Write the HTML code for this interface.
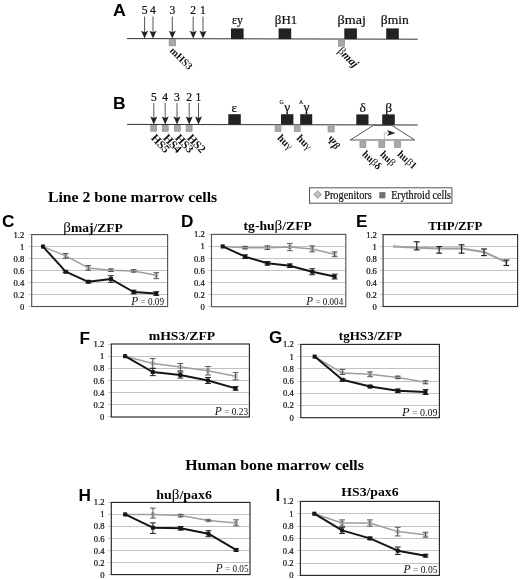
<!DOCTYPE html>
<html><head><meta charset="utf-8"><title>Figure</title>
<style>
html,body{margin:0;padding:0;background:#fff;}
body{width:520px;height:580px;overflow:hidden;font-family:"Liberation Serif",serif;}
svg{display:block;filter:blur(0.35px);}
</style></head><body>
<svg width="520" height="580" viewBox="0 0 520 580">
<rect x="-5" y="-5" width="530" height="590" fill="#fff"/>
<text x="113" y="15.5" text-anchor="start" style="font-family:'Liberation Sans',sans-serif;font-size:17.2px;font-weight:bold;" fill="#000" textLength="12.9" lengthAdjust="spacingAndGlyphs">A</text>
<line x1="127" y1="38.6" x2="417.7" y2="39.2" stroke="#333" stroke-width="1.0"/>
<line x1="144.6" y1="16.5" x2="144.6" y2="34.6" stroke="#555" stroke-width="1"/>
<polygon points="141.1,30.8 144.6,32.2 148.1,30.8 144.6,38.6" fill="#222"/>
<text x="144.6" y="14.3" text-anchor="middle" style="font-family:'Liberation Serif',serif;font-size:11.6px;" fill="#111" stroke="#111" stroke-width="0.22">5</text>
<line x1="153" y1="16.5" x2="153" y2="34.6" stroke="#555" stroke-width="1"/>
<polygon points="149.5,30.8 153,32.2 156.5,30.8 153,38.6" fill="#222"/>
<text x="153" y="14.3" text-anchor="middle" style="font-family:'Liberation Serif',serif;font-size:11.6px;" fill="#111" stroke="#111" stroke-width="0.22">4</text>
<line x1="172.3" y1="16.5" x2="172.3" y2="34.6" stroke="#555" stroke-width="1"/>
<polygon points="168.8,30.8 172.3,32.2 175.8,30.8 172.3,38.6" fill="#222"/>
<text x="172.3" y="14.3" text-anchor="middle" style="font-family:'Liberation Serif',serif;font-size:11.6px;" fill="#111" stroke="#111" stroke-width="0.22">3</text>
<line x1="193.2" y1="16.5" x2="193.2" y2="34.6" stroke="#555" stroke-width="1"/>
<polygon points="189.7,30.8 193.2,32.2 196.7,30.8 193.2,38.6" fill="#222"/>
<text x="193.2" y="14.3" text-anchor="middle" style="font-family:'Liberation Serif',serif;font-size:11.6px;" fill="#111" stroke="#111" stroke-width="0.22">2</text>
<line x1="203" y1="16.5" x2="203" y2="34.6" stroke="#555" stroke-width="1"/>
<polygon points="199.5,30.8 203,32.2 206.5,30.8 203,38.6" fill="#222"/>
<text x="203" y="14.3" text-anchor="middle" style="font-family:'Liberation Serif',serif;font-size:11.6px;" fill="#111" stroke="#111" stroke-width="0.22">1</text>
<rect x="231" y="28.4" width="12.6" height="10.7" fill="#222"/>
<text x="237.6" y="24.4" text-anchor="middle" style="font-family:'Liberation Serif',serif;font-size:13.3px;" fill="#111" textLength="11" lengthAdjust="spacingAndGlyphs" stroke="#111" stroke-width="0.22">εy</text>
<rect x="278.6" y="28.4" width="12.6" height="10.7" fill="#222"/>
<text x="286" y="24.4" text-anchor="middle" style="font-family:'Liberation Serif',serif;font-size:13.3px;" fill="#111" textLength="22.4" lengthAdjust="spacingAndGlyphs" stroke="#111" stroke-width="0.22">βH1</text>
<rect x="344.3" y="28.4" width="12.6" height="10.7" fill="#222"/>
<text x="351.7" y="24.4" text-anchor="middle" style="font-family:'Liberation Serif',serif;font-size:13.3px;" fill="#111" textLength="28.3" lengthAdjust="spacingAndGlyphs" stroke="#111" stroke-width="0.22">βmaj</text>
<rect x="386.2" y="28.4" width="12.6" height="10.7" fill="#222"/>
<text x="394.8" y="24.4" text-anchor="middle" style="font-family:'Liberation Serif',serif;font-size:13.3px;" fill="#111" textLength="28" lengthAdjust="spacingAndGlyphs" stroke="#111" stroke-width="0.22">βmin</text>
<rect x="169.15" y="39.55" width="6.3" height="6.3" fill="#a8a8a8" stroke="#8c8c8c" stroke-width="0.7"/>
<rect x="338.45" y="40.05" width="6.1" height="6.1" fill="#a8a8a8" stroke="#8c8c8c" stroke-width="0.7"/>
<text x="169.3" y="51.2" text-anchor="start" style="font-family:'Liberation Serif',serif;font-size:10.2px;font-weight:bold;" fill="#111" transform="rotate(45 169.3 51.2)">mHS3</text>
<text x="337.2" y="51.5" text-anchor="start" style="font-family:'Liberation Serif',serif;font-size:11.5px;font-weight:bold;font-style:italic;" fill="#111" transform="rotate(45 337.2 51.5)"><tspan style="font-style:normal;font-weight:normal">β</tspan>maj</text>
<text x="113" y="108.7" text-anchor="start" style="font-family:'Liberation Sans',sans-serif;font-size:17.2px;font-weight:bold;" fill="#000" textLength="12.6" lengthAdjust="spacingAndGlyphs">B</text>
<line x1="127" y1="124.4" x2="417.7" y2="125" stroke="#333" stroke-width="1.0"/>
<line x1="153.8" y1="103" x2="153.8" y2="120.4" stroke="#555" stroke-width="1"/>
<polygon points="150.3,116.6 153.8,118 157.3,116.6 153.8,124.4" fill="#222"/>
<text x="153.8" y="101.2" text-anchor="middle" style="font-family:'Liberation Serif',serif;font-size:11.6px;" fill="#111" stroke="#111" stroke-width="0.22">5</text>
<line x1="165.2" y1="103" x2="165.2" y2="120.4" stroke="#555" stroke-width="1"/>
<polygon points="161.7,116.6 165.2,118 168.7,116.6 165.2,124.4" fill="#222"/>
<text x="165.2" y="101.2" text-anchor="middle" style="font-family:'Liberation Serif',serif;font-size:11.6px;" fill="#111" stroke="#111" stroke-width="0.22">4</text>
<line x1="177" y1="103" x2="177" y2="120.4" stroke="#555" stroke-width="1"/>
<polygon points="173.5,116.6 177,118 180.5,116.6 177,124.4" fill="#222"/>
<text x="177" y="101.2" text-anchor="middle" style="font-family:'Liberation Serif',serif;font-size:11.6px;" fill="#111" stroke="#111" stroke-width="0.22">3</text>
<line x1="189.2" y1="103" x2="189.2" y2="120.4" stroke="#555" stroke-width="1"/>
<polygon points="185.7,116.6 189.2,118 192.7,116.6 189.2,124.4" fill="#222"/>
<text x="189.2" y="101.2" text-anchor="middle" style="font-family:'Liberation Serif',serif;font-size:11.6px;" fill="#111" stroke="#111" stroke-width="0.22">2</text>
<line x1="198.5" y1="103" x2="198.5" y2="120.4" stroke="#555" stroke-width="1"/>
<polygon points="195,116.6 198.5,118 202,116.6 198.5,124.4" fill="#222"/>
<text x="198.5" y="101.2" text-anchor="middle" style="font-family:'Liberation Serif',serif;font-size:11.6px;" fill="#111" stroke="#111" stroke-width="0.22">1</text>
<rect x="150.75" y="125.35" width="5.9" height="5.9" fill="#a8a8a8" stroke="#8c8c8c" stroke-width="0.7"/>
<rect x="162.25" y="125.35" width="5.9" height="5.9" fill="#a8a8a8" stroke="#8c8c8c" stroke-width="0.7"/>
<rect x="174.35" y="125.35" width="5.9" height="5.9" fill="#a8a8a8" stroke="#8c8c8c" stroke-width="0.7"/>
<rect x="186.15" y="125.35" width="5.9" height="5.9" fill="#a8a8a8" stroke="#8c8c8c" stroke-width="0.7"/>
<text x="150.5" y="138.4" text-anchor="start" style="font-family:'Liberation Serif',serif;font-size:11.5px;font-weight:bold;" fill="#111" transform="rotate(47 150.5 138.4)">HS5</text>
<text x="162.5" y="138.4" text-anchor="start" style="font-family:'Liberation Serif',serif;font-size:11.5px;font-weight:bold;" fill="#111" transform="rotate(47 162.5 138.4)">HS4</text>
<text x="174.5" y="138.4" text-anchor="start" style="font-family:'Liberation Serif',serif;font-size:11.5px;font-weight:bold;" fill="#111" transform="rotate(47 174.5 138.4)">HS3</text>
<text x="186.5" y="138.4" text-anchor="start" style="font-family:'Liberation Serif',serif;font-size:11.5px;font-weight:bold;" fill="#111" transform="rotate(47 186.5 138.4)">HS2</text>
<rect x="228.3" y="114.2" width="12.5" height="10.4" fill="#222"/>
<text x="234.3" y="111.6" text-anchor="middle" style="font-family:'Liberation Serif',serif;font-size:13px;" fill="#111" stroke="#111" stroke-width="0.22">ε</text>
<rect x="281" y="114.2" width="12.4" height="10.5" fill="#222"/>
<rect x="300.2" y="114.2" width="12" height="10.5" fill="#222"/>
<rect x="356.3" y="114.4" width="12.2" height="10.5" fill="#222"/>
<text x="362.6" y="111.8" text-anchor="middle" style="font-family:'Liberation Serif',serif;font-size:13.5px;" fill="#111" stroke="#111" stroke-width="0.22">δ</text>
<rect x="382.2" y="114.4" width="12.6" height="10.5" fill="#222"/>
<text x="388.6" y="111.8" text-anchor="middle" style="font-family:'Liberation Serif',serif;font-size:13.5px;" fill="#111" stroke="#111" stroke-width="0.22">β</text>
<text x="279.4" y="104.2" text-anchor="start" style="font-family:'Liberation Serif',serif;font-size:5.8px;" fill="#333" stroke="#333" stroke-width="0.22">G</text>
<text x="284.2" y="110.6" text-anchor="start" style="font-family:'Liberation Serif',serif;font-size:13.5px;" fill="#111" stroke="#111" stroke-width="0.22">γ</text>
<text x="299" y="104.2" text-anchor="start" style="font-family:'Liberation Serif',serif;font-size:5.8px;" fill="#333" stroke="#333" stroke-width="0.22">A</text>
<text x="303.6" y="110.6" text-anchor="start" style="font-family:'Liberation Serif',serif;font-size:13.5px;" fill="#111" stroke="#111" stroke-width="0.22">γ</text>
<rect x="275.15" y="125.75" width="5.8" height="5.8" fill="#a8a8a8" stroke="#8c8c8c" stroke-width="0.7"/>
<rect x="294.25" y="125.85" width="5.9" height="5.8" fill="#a8a8a8" stroke="#8c8c8c" stroke-width="0.7"/>
<rect x="328.05" y="126.15" width="6.1" height="5.8" fill="#a8a8a8" stroke="#8c8c8c" stroke-width="0.7"/>
<text x="276.8" y="138.6" text-anchor="start" style="font-family:'Liberation Serif',serif;font-size:10.6px;font-weight:bold;" fill="#111" transform="rotate(45 276.8 138.6)">hu<tspan style="font-weight:normal">γ</tspan></text>
<text x="296" y="138.8" text-anchor="start" style="font-family:'Liberation Serif',serif;font-size:10.6px;font-weight:bold;" fill="#111" transform="rotate(45 296 138.8)">hu<tspan style="font-weight:normal">γ</tspan></text>
<text x="326" y="140.4" text-anchor="start" style="font-family:'Liberation Serif',serif;font-size:10.5px;font-weight:bold;" fill="#111" transform="rotate(45 326 140.4)">Ψ<tspan style="font-style:italic">β</tspan></text>
<polygon points="373.3,125.4 391.9,125.4 414.8,140 350.3,140" fill="#fff" stroke="#383838" stroke-width="0.85"/>
<polyline points="384.3,139.6 384.3,132.8 389,132.8" fill="none" stroke="#999" stroke-width="0.6"/>
<polygon points="387,129.9 395.4,132.9 387,135.9 389.2,132.9" fill="#222"/>
<rect x="359.95" y="141.45" width="5.9" height="5.9" fill="#a8a8a8" stroke="#8c8c8c" stroke-width="0.7"/>
<rect x="378.85" y="141.45" width="5.9" height="5.9" fill="#a8a8a8" stroke="#8c8c8c" stroke-width="0.7"/>
<rect x="394.65" y="141.45" width="5.9" height="5.9" fill="#a8a8a8" stroke="#8c8c8c" stroke-width="0.7"/>
<text x="361.6" y="154.8" text-anchor="start" style="font-family:'Liberation Serif',serif;font-size:10.4px;font-weight:bold;" fill="#111" transform="rotate(44 361.6 154.8)">hu<tspan style="font-weight:normal">β</tspan>δ</text>
<text x="379.4" y="155" text-anchor="start" style="font-family:'Liberation Serif',serif;font-size:10.4px;font-weight:bold;" fill="#111" transform="rotate(44 379.4 155)">hu<tspan style="font-weight:normal">β</tspan></text>
<text x="396.8" y="155" text-anchor="start" style="font-family:'Liberation Serif',serif;font-size:10.4px;font-weight:bold;" fill="#111" transform="rotate(42 396.8 155)">hu<tspan style="font-weight:normal">β</tspan>1</text>
<text x="132.6" y="202.1" text-anchor="middle" style="font-family:'Liberation Serif',serif;font-size:14.2px;font-weight:bold;" fill="#000" textLength="169.2" lengthAdjust="spacingAndGlyphs">Line 2 bone marrow cells</text>
<text x="274.6" y="470.3" text-anchor="middle" style="font-family:'Liberation Serif',serif;font-size:14.2px;font-weight:bold;" fill="#000" textLength="178.6" lengthAdjust="spacingAndGlyphs">Human bone marrow cells</text>
<rect x="309.5" y="187.8" width="142.4" height="15.4" fill="#fff" stroke="#555" stroke-width="1.0"/>
<polygon points="317.6,190.6 321.5,194.6 317.6,198.6 313.7,194.6" fill="#bdbdbd" stroke="#8c8c8c" stroke-width="0.7"/>
<text x="324.2" y="199.2" text-anchor="start" style="font-family:'Liberation Serif',serif;font-size:12px;" fill="#111" textLength="47.6" lengthAdjust="spacingAndGlyphs" stroke="#111" stroke-width="0.22">Progenitors</text>
<rect x="379.3" y="192.1" width="6.1" height="6.2" fill="#707070"/>
<text x="391.2" y="199.2" text-anchor="start" style="font-family:'Liberation Serif',serif;font-size:12px;" fill="#111" textLength="59.8" lengthAdjust="spacingAndGlyphs" stroke="#111" stroke-width="0.22">Erythroid cells</text>
<rect x="31.7" y="234.6" width="135.9" height="71.9" fill="#fff"/>
<line x1="28.5" y1="234.5" x2="31.7" y2="234.5" stroke="#c4c4c4" stroke-width="0.9"/>
<line x1="32.3" y1="246.5" x2="167" y2="246.5" stroke="#c2c2c2" stroke-width="1.1"/>
<line x1="28.5" y1="246.5" x2="31.7" y2="246.5" stroke="#c4c4c4" stroke-width="0.9"/>
<line x1="32.3" y1="258.5" x2="167" y2="258.5" stroke="#c2c2c2" stroke-width="1.1"/>
<line x1="28.5" y1="258.5" x2="31.7" y2="258.5" stroke="#c4c4c4" stroke-width="0.9"/>
<line x1="32.3" y1="270.5" x2="167" y2="270.5" stroke="#c2c2c2" stroke-width="1.1"/>
<line x1="28.5" y1="270.5" x2="31.7" y2="270.5" stroke="#c4c4c4" stroke-width="0.9"/>
<line x1="32.3" y1="282.5" x2="167" y2="282.5" stroke="#c2c2c2" stroke-width="1.1"/>
<line x1="28.5" y1="282.5" x2="31.7" y2="282.5" stroke="#c4c4c4" stroke-width="0.9"/>
<line x1="32.3" y1="294.5" x2="167" y2="294.5" stroke="#c2c2c2" stroke-width="1.1"/>
<line x1="28.5" y1="294.5" x2="31.7" y2="294.5" stroke="#c4c4c4" stroke-width="0.9"/>
<line x1="28.5" y1="306.5" x2="31.7" y2="306.5" stroke="#c4c4c4" stroke-width="0.9"/>
<rect x="31.7" y="234.6" width="135.9" height="71.9" fill="none" stroke="#555" stroke-width="1.15"/>
<text x="24.2" y="237.6" text-anchor="end" style="font-family:'Liberation Serif',serif;font-size:8.6px;" fill="#111" stroke="#111" stroke-width="0.22">1.2</text>
<text x="24.2" y="249.58" text-anchor="end" style="font-family:'Liberation Serif',serif;font-size:8.6px;" fill="#111" stroke="#111" stroke-width="0.22">1</text>
<text x="24.2" y="261.57" text-anchor="end" style="font-family:'Liberation Serif',serif;font-size:8.6px;" fill="#111" stroke="#111" stroke-width="0.22">0.8</text>
<text x="24.2" y="273.55" text-anchor="end" style="font-family:'Liberation Serif',serif;font-size:8.6px;" fill="#111" stroke="#111" stroke-width="0.22">0.6</text>
<text x="24.2" y="285.53" text-anchor="end" style="font-family:'Liberation Serif',serif;font-size:8.6px;" fill="#111" stroke="#111" stroke-width="0.22">0.4</text>
<text x="24.2" y="297.52" text-anchor="end" style="font-family:'Liberation Serif',serif;font-size:8.6px;" fill="#111" stroke="#111" stroke-width="0.22">0.2</text>
<text x="24.2" y="309.5" text-anchor="end" style="font-family:'Liberation Serif',serif;font-size:8.6px;" fill="#111" stroke="#111" stroke-width="0.22">0</text>
<polyline points="43.0,246.6 65.7,255.9 88.3,267.9 111.0,270.2 133.6,270.9 156.3,275.3" fill="none" stroke="#9e9e9e" stroke-width="1.5" stroke-linejoin="round"/>
<rect x="41.52" y="245.08" width="3" height="3" fill="#cfcfcf" stroke="#9e9e9e" stroke-width="0.7"/>
<rect x="64.17" y="254.37" width="3" height="3" fill="#cfcfcf" stroke="#9e9e9e" stroke-width="0.7"/>
<line x1="65.67" y1="253.47" x2="65.67" y2="258.27" stroke="#444" stroke-width="0.9"/>
<line x1="62.77" y1="253.47" x2="68.58" y2="253.47" stroke="#444" stroke-width="0.9"/>
<line x1="62.77" y1="258.27" x2="68.58" y2="258.27" stroke="#444" stroke-width="0.9"/>
<rect x="86.83" y="266.35" width="3" height="3" fill="#cfcfcf" stroke="#9e9e9e" stroke-width="0.7"/>
<line x1="88.33" y1="265.46" x2="88.33" y2="270.25" stroke="#444" stroke-width="0.9"/>
<line x1="85.42" y1="265.46" x2="91.23" y2="265.46" stroke="#444" stroke-width="0.9"/>
<line x1="85.42" y1="270.25" x2="91.23" y2="270.25" stroke="#444" stroke-width="0.9"/>
<rect x="109.48" y="268.69" width="3" height="3" fill="#cfcfcf" stroke="#9e9e9e" stroke-width="0.7"/>
<line x1="110.98" y1="268.99" x2="110.98" y2="271.39" stroke="#444" stroke-width="0.9"/>
<line x1="108.08" y1="268.99" x2="113.88" y2="268.99" stroke="#444" stroke-width="0.9"/>
<line x1="108.08" y1="271.39" x2="113.88" y2="271.39" stroke="#444" stroke-width="0.9"/>
<rect x="132.12" y="269.41" width="3" height="3" fill="#cfcfcf" stroke="#9e9e9e" stroke-width="0.7"/>
<line x1="133.62" y1="269.71" x2="133.62" y2="272.11" stroke="#444" stroke-width="0.9"/>
<line x1="130.72" y1="269.71" x2="136.53" y2="269.71" stroke="#444" stroke-width="0.9"/>
<line x1="130.72" y1="272.11" x2="136.53" y2="272.11" stroke="#444" stroke-width="0.9"/>
<rect x="154.78" y="273.84" width="3" height="3" fill="#cfcfcf" stroke="#9e9e9e" stroke-width="0.7"/>
<line x1="156.28" y1="272.65" x2="156.28" y2="278.64" stroke="#444" stroke-width="0.9"/>
<line x1="153.38" y1="272.65" x2="159.18" y2="272.65" stroke="#444" stroke-width="0.9"/>
<line x1="153.38" y1="278.64" x2="159.18" y2="278.64" stroke="#444" stroke-width="0.9"/>
<polyline points="43.0,246.6 65.7,271.7 88.3,281.8 111.0,279.1 133.6,292.0 156.3,293.6" fill="none" stroke="#151515" stroke-width="2.0" stroke-linejoin="round"/>
<rect x="41.02" y="244.58" width="4" height="4" fill="#151515"/>
<rect x="63.67" y="269.75" width="4" height="4" fill="#151515"/>
<line x1="65.67" y1="270.85" x2="65.67" y2="272.65" stroke="#1a1a1a" stroke-width="1.0"/>
<line x1="62.77" y1="270.85" x2="68.58" y2="270.85" stroke="#1a1a1a" stroke-width="1.0"/>
<line x1="62.77" y1="272.65" x2="68.58" y2="272.65" stroke="#1a1a1a" stroke-width="1.0"/>
<rect x="86.33" y="279.75" width="4" height="4" fill="#151515"/>
<line x1="88.33" y1="280.56" x2="88.33" y2="282.95" stroke="#1a1a1a" stroke-width="1.0"/>
<line x1="85.42" y1="280.56" x2="91.23" y2="280.56" stroke="#1a1a1a" stroke-width="1.0"/>
<line x1="85.42" y1="282.95" x2="91.23" y2="282.95" stroke="#1a1a1a" stroke-width="1.0"/>
<rect x="108.98" y="277.06" width="4" height="4" fill="#151515"/>
<line x1="110.98" y1="275.76" x2="110.98" y2="282.35" stroke="#1a1a1a" stroke-width="1.0"/>
<line x1="108.08" y1="275.76" x2="113.88" y2="275.76" stroke="#1a1a1a" stroke-width="1.0"/>
<line x1="108.08" y1="282.35" x2="113.88" y2="282.35" stroke="#1a1a1a" stroke-width="1.0"/>
<rect x="131.62" y="290" width="4" height="4" fill="#151515"/>
<line x1="133.62" y1="290.2" x2="133.62" y2="293.8" stroke="#1a1a1a" stroke-width="1.0"/>
<line x1="130.72" y1="290.2" x2="136.53" y2="290.2" stroke="#1a1a1a" stroke-width="1.0"/>
<line x1="130.72" y1="293.8" x2="136.53" y2="293.8" stroke="#1a1a1a" stroke-width="1.0"/>
<rect x="154.28" y="291.56" width="4" height="4" fill="#151515"/>
<line x1="156.28" y1="291.76" x2="156.28" y2="295.36" stroke="#1a1a1a" stroke-width="1.0"/>
<line x1="153.38" y1="291.76" x2="159.18" y2="291.76" stroke="#1a1a1a" stroke-width="1.0"/>
<line x1="153.38" y1="295.36" x2="159.18" y2="295.36" stroke="#1a1a1a" stroke-width="1.0"/>
<text x="2" y="226.8" text-anchor="start" style="font-family:'Liberation Sans',sans-serif;font-size:17.2px;font-weight:bold;" fill="#000">C</text>
<text x="63.3" y="231.6" text-anchor="start" style="font-family:'Liberation Serif',serif;font-size:12.3px;font-weight:bold;" fill="#000" textLength="59.5" lengthAdjust="spacingAndGlyphs"><tspan style="font-weight:normal;font-size:13.8px">β</tspan>maj/ZFP</text>
<text x="131.3" y="305" fill="#111" textLength="32.7" lengthAdjust="spacingAndGlyphs" style="font-family:'Liberation Serif',serif;font-size:9.6px;"><tspan style="font-style:italic;font-size:11.8px">P</tspan> <tspan fill="#666">=</tspan> 0.09</text>
<rect x="211.5" y="234.4" width="134.3" height="72.3" fill="#fff"/>
<line x1="208.3" y1="234.5" x2="211.5" y2="234.5" stroke="#c4c4c4" stroke-width="0.9"/>
<line x1="212.1" y1="246.5" x2="345.2" y2="246.5" stroke="#c2c2c2" stroke-width="1.1"/>
<line x1="208.3" y1="246.5" x2="211.5" y2="246.5" stroke="#c4c4c4" stroke-width="0.9"/>
<line x1="212.1" y1="258.5" x2="345.2" y2="258.5" stroke="#c2c2c2" stroke-width="1.1"/>
<line x1="208.3" y1="258.5" x2="211.5" y2="258.5" stroke="#c4c4c4" stroke-width="0.9"/>
<line x1="212.1" y1="270.5" x2="345.2" y2="270.5" stroke="#c2c2c2" stroke-width="1.1"/>
<line x1="208.3" y1="270.5" x2="211.5" y2="270.5" stroke="#c4c4c4" stroke-width="0.9"/>
<line x1="212.1" y1="282.5" x2="345.2" y2="282.5" stroke="#c2c2c2" stroke-width="1.1"/>
<line x1="208.3" y1="282.5" x2="211.5" y2="282.5" stroke="#c4c4c4" stroke-width="0.9"/>
<line x1="212.1" y1="294.5" x2="345.2" y2="294.5" stroke="#c2c2c2" stroke-width="1.1"/>
<line x1="208.3" y1="294.5" x2="211.5" y2="294.5" stroke="#c4c4c4" stroke-width="0.9"/>
<line x1="208.3" y1="306.5" x2="211.5" y2="306.5" stroke="#c4c4c4" stroke-width="0.9"/>
<rect x="211.5" y="234.4" width="134.3" height="72.3" fill="none" stroke="#555" stroke-width="1.15"/>
<text x="204.8" y="237.4" text-anchor="end" style="font-family:'Liberation Serif',serif;font-size:8.6px;" fill="#111" stroke="#111" stroke-width="0.22">1.2</text>
<text x="204.8" y="249.45" text-anchor="end" style="font-family:'Liberation Serif',serif;font-size:8.6px;" fill="#111" stroke="#111" stroke-width="0.22">1</text>
<text x="204.8" y="261.5" text-anchor="end" style="font-family:'Liberation Serif',serif;font-size:8.6px;" fill="#111" stroke="#111" stroke-width="0.22">0.8</text>
<text x="204.8" y="273.55" text-anchor="end" style="font-family:'Liberation Serif',serif;font-size:8.6px;" fill="#111" stroke="#111" stroke-width="0.22">0.6</text>
<text x="204.8" y="285.6" text-anchor="end" style="font-family:'Liberation Serif',serif;font-size:8.6px;" fill="#111" stroke="#111" stroke-width="0.22">0.4</text>
<text x="204.8" y="297.65" text-anchor="end" style="font-family:'Liberation Serif',serif;font-size:8.6px;" fill="#111" stroke="#111" stroke-width="0.22">0.2</text>
<text x="204.8" y="309.7" text-anchor="end" style="font-family:'Liberation Serif',serif;font-size:8.6px;" fill="#111" stroke="#111" stroke-width="0.22">0</text>
<polyline points="222.7,246.4 245.1,247.7 267.5,247.7 289.8,247.1 312.2,248.9 334.6,254.3" fill="none" stroke="#9e9e9e" stroke-width="1.5" stroke-linejoin="round"/>
<rect x="221.19" y="244.95" width="3" height="3" fill="#cfcfcf" stroke="#9e9e9e" stroke-width="0.7"/>
<rect x="243.57" y="246.16" width="3" height="3" fill="#cfcfcf" stroke="#9e9e9e" stroke-width="0.7"/>
<line x1="245.07" y1="246.45" x2="245.07" y2="248.86" stroke="#444" stroke-width="0.9"/>
<line x1="242.17" y1="246.45" x2="247.97" y2="246.45" stroke="#444" stroke-width="0.9"/>
<line x1="242.17" y1="248.86" x2="247.97" y2="248.86" stroke="#444" stroke-width="0.9"/>
<rect x="265.96" y="246.16" width="3" height="3" fill="#cfcfcf" stroke="#9e9e9e" stroke-width="0.7"/>
<line x1="267.46" y1="245.85" x2="267.46" y2="249.46" stroke="#444" stroke-width="0.9"/>
<line x1="264.56" y1="245.85" x2="270.36" y2="245.85" stroke="#444" stroke-width="0.9"/>
<line x1="264.56" y1="249.46" x2="270.36" y2="249.46" stroke="#444" stroke-width="0.9"/>
<rect x="288.34" y="245.55" width="3" height="3" fill="#cfcfcf" stroke="#9e9e9e" stroke-width="0.7"/>
<line x1="289.84" y1="243.44" x2="289.84" y2="250.67" stroke="#444" stroke-width="0.9"/>
<line x1="286.94" y1="243.44" x2="292.74" y2="243.44" stroke="#444" stroke-width="0.9"/>
<line x1="286.94" y1="250.67" x2="292.74" y2="250.67" stroke="#444" stroke-width="0.9"/>
<rect x="310.73" y="247.36" width="3" height="3" fill="#cfcfcf" stroke="#9e9e9e" stroke-width="0.7"/>
<line x1="312.23" y1="245.85" x2="312.23" y2="251.87" stroke="#444" stroke-width="0.9"/>
<line x1="309.33" y1="245.85" x2="315.12" y2="245.85" stroke="#444" stroke-width="0.9"/>
<line x1="309.33" y1="251.87" x2="315.12" y2="251.87" stroke="#444" stroke-width="0.9"/>
<rect x="333.11" y="252.78" width="3" height="3" fill="#cfcfcf" stroke="#9e9e9e" stroke-width="0.7"/>
<line x1="334.61" y1="251.87" x2="334.61" y2="256.69" stroke="#444" stroke-width="0.9"/>
<line x1="331.71" y1="251.87" x2="337.51" y2="251.87" stroke="#444" stroke-width="0.9"/>
<line x1="331.71" y1="256.69" x2="337.51" y2="256.69" stroke="#444" stroke-width="0.9"/>
<polyline points="222.7,246.4 245.1,256.7 267.5,263.3 289.8,265.7 312.2,271.8 334.6,276.6" fill="none" stroke="#151515" stroke-width="2.0" stroke-linejoin="round"/>
<rect x="220.69" y="244.45" width="4" height="4" fill="#151515"/>
<rect x="243.07" y="254.69" width="4" height="4" fill="#151515"/>
<line x1="245.07" y1="254.88" x2="245.07" y2="258.5" stroke="#1a1a1a" stroke-width="1.0"/>
<line x1="242.17" y1="254.88" x2="247.97" y2="254.88" stroke="#1a1a1a" stroke-width="1.0"/>
<line x1="242.17" y1="258.5" x2="247.97" y2="258.5" stroke="#1a1a1a" stroke-width="1.0"/>
<rect x="265.46" y="261.32" width="4" height="4" fill="#151515"/>
<line x1="267.46" y1="261.51" x2="267.46" y2="265.13" stroke="#1a1a1a" stroke-width="1.0"/>
<line x1="264.56" y1="261.51" x2="270.36" y2="261.51" stroke="#1a1a1a" stroke-width="1.0"/>
<line x1="264.56" y1="265.13" x2="270.36" y2="265.13" stroke="#1a1a1a" stroke-width="1.0"/>
<rect x="287.84" y="263.73" width="4" height="4" fill="#151515"/>
<line x1="289.84" y1="263.92" x2="289.84" y2="267.54" stroke="#1a1a1a" stroke-width="1.0"/>
<line x1="286.94" y1="263.92" x2="292.74" y2="263.92" stroke="#1a1a1a" stroke-width="1.0"/>
<line x1="286.94" y1="267.54" x2="292.74" y2="267.54" stroke="#1a1a1a" stroke-width="1.0"/>
<rect x="310.23" y="269.75" width="4" height="4" fill="#151515"/>
<line x1="312.23" y1="268.74" x2="312.23" y2="274.77" stroke="#1a1a1a" stroke-width="1.0"/>
<line x1="309.33" y1="268.74" x2="315.12" y2="268.74" stroke="#1a1a1a" stroke-width="1.0"/>
<line x1="309.33" y1="274.77" x2="315.12" y2="274.77" stroke="#1a1a1a" stroke-width="1.0"/>
<rect x="332.61" y="274.57" width="4" height="4" fill="#151515"/>
<line x1="334.61" y1="274.17" x2="334.61" y2="278.99" stroke="#1a1a1a" stroke-width="1.0"/>
<line x1="331.71" y1="274.17" x2="337.51" y2="274.17" stroke="#1a1a1a" stroke-width="1.0"/>
<line x1="331.71" y1="278.99" x2="337.51" y2="278.99" stroke="#1a1a1a" stroke-width="1.0"/>
<text x="181" y="226.6" text-anchor="start" style="font-family:'Liberation Sans',sans-serif;font-size:17.2px;font-weight:bold;" fill="#000">D</text>
<text x="243.6" y="230.2" text-anchor="start" style="font-family:'Liberation Serif',serif;font-size:12.3px;font-weight:bold;" fill="#000" textLength="68.2" lengthAdjust="spacingAndGlyphs">tg-hu<tspan style="font-weight:normal;font-size:13.8px">β</tspan>/ZFP</text>
<text x="306.3" y="305.2" fill="#111" textLength="36.9" lengthAdjust="spacingAndGlyphs" style="font-family:'Liberation Serif',serif;font-size:9.6px;"><tspan style="font-style:italic;font-size:11.8px">P</tspan> <tspan fill="#666">=</tspan> 0.004</text>
<rect x="383.1" y="234.6" width="134.5" height="71.9" fill="#fff"/>
<line x1="379.9" y1="234.5" x2="383.1" y2="234.5" stroke="#c4c4c4" stroke-width="0.9"/>
<line x1="383.7" y1="246.5" x2="517" y2="246.5" stroke="#c2c2c2" stroke-width="1.1"/>
<line x1="379.9" y1="246.5" x2="383.1" y2="246.5" stroke="#c4c4c4" stroke-width="0.9"/>
<line x1="383.7" y1="258.5" x2="517" y2="258.5" stroke="#c2c2c2" stroke-width="1.1"/>
<line x1="379.9" y1="258.5" x2="383.1" y2="258.5" stroke="#c4c4c4" stroke-width="0.9"/>
<line x1="383.7" y1="270.5" x2="517" y2="270.5" stroke="#c2c2c2" stroke-width="1.1"/>
<line x1="379.9" y1="270.5" x2="383.1" y2="270.5" stroke="#c4c4c4" stroke-width="0.9"/>
<line x1="383.7" y1="282.5" x2="517" y2="282.5" stroke="#c2c2c2" stroke-width="1.1"/>
<line x1="379.9" y1="282.5" x2="383.1" y2="282.5" stroke="#c4c4c4" stroke-width="0.9"/>
<line x1="383.7" y1="294.5" x2="517" y2="294.5" stroke="#c2c2c2" stroke-width="1.1"/>
<line x1="379.9" y1="294.5" x2="383.1" y2="294.5" stroke="#c4c4c4" stroke-width="0.9"/>
<line x1="379.9" y1="306.5" x2="383.1" y2="306.5" stroke="#c4c4c4" stroke-width="0.9"/>
<rect x="383.1" y="234.6" width="134.5" height="71.9" fill="none" stroke="#333" stroke-width="1.15"/>
<text x="376.9" y="237.6" text-anchor="end" style="font-family:'Liberation Serif',serif;font-size:8.6px;" fill="#111" stroke="#111" stroke-width="0.22">1.2</text>
<text x="376.9" y="249.58" text-anchor="end" style="font-family:'Liberation Serif',serif;font-size:8.6px;" fill="#111" stroke="#111" stroke-width="0.22">1</text>
<text x="376.9" y="261.57" text-anchor="end" style="font-family:'Liberation Serif',serif;font-size:8.6px;" fill="#111" stroke="#111" stroke-width="0.22">0.8</text>
<text x="376.9" y="273.55" text-anchor="end" style="font-family:'Liberation Serif',serif;font-size:8.6px;" fill="#111" stroke="#111" stroke-width="0.22">0.6</text>
<text x="376.9" y="285.53" text-anchor="end" style="font-family:'Liberation Serif',serif;font-size:8.6px;" fill="#111" stroke="#111" stroke-width="0.22">0.4</text>
<text x="376.9" y="297.52" text-anchor="end" style="font-family:'Liberation Serif',serif;font-size:8.6px;" fill="#111" stroke="#111" stroke-width="0.22">0.2</text>
<text x="376.9" y="309.5" text-anchor="end" style="font-family:'Liberation Serif',serif;font-size:8.6px;" fill="#111" stroke="#111" stroke-width="0.22">0</text>
<polyline points="394.3,246.6 416.7,247.8 439.1,248.4 461.6,248.4 484.0,252.0 506.4,262.2" fill="none" stroke="#9e9e9e" stroke-width="2.0" stroke-linejoin="round"/>
<rect x="393.41" y="245.68" width="1.8" height="1.8" fill="#cfcfcf" stroke="#9e9e9e" stroke-width="0.7"/>
<rect x="415.83" y="246.88" width="1.8" height="1.8" fill="#cfcfcf" stroke="#9e9e9e" stroke-width="0.7"/>
<line x1="416.73" y1="241.79" x2="416.73" y2="249.88" stroke="#222" stroke-width="1.2"/>
<line x1="413.83" y1="241.79" x2="419.62" y2="241.79" stroke="#222" stroke-width="1.2"/>
<line x1="413.83" y1="249.88" x2="419.62" y2="249.88" stroke="#222" stroke-width="1.2"/>
<rect x="438.24" y="247.48" width="1.8" height="1.8" fill="#cfcfcf" stroke="#9e9e9e" stroke-width="0.7"/>
<line x1="439.14" y1="246.58" x2="439.14" y2="253.17" stroke="#222" stroke-width="1.2"/>
<line x1="436.24" y1="246.58" x2="442.04" y2="246.58" stroke="#222" stroke-width="1.2"/>
<line x1="436.24" y1="253.17" x2="442.04" y2="253.17" stroke="#222" stroke-width="1.2"/>
<rect x="460.66" y="247.48" width="1.8" height="1.8" fill="#cfcfcf" stroke="#9e9e9e" stroke-width="0.7"/>
<line x1="461.56" y1="244.79" x2="461.56" y2="253.17" stroke="#222" stroke-width="1.2"/>
<line x1="458.66" y1="244.79" x2="464.46" y2="244.79" stroke="#222" stroke-width="1.2"/>
<line x1="458.66" y1="253.17" x2="464.46" y2="253.17" stroke="#222" stroke-width="1.2"/>
<rect x="483.08" y="251.08" width="1.8" height="1.8" fill="#cfcfcf" stroke="#9e9e9e" stroke-width="0.7"/>
<line x1="483.98" y1="248.98" x2="483.98" y2="255.57" stroke="#222" stroke-width="1.2"/>
<line x1="481.08" y1="248.98" x2="486.88" y2="248.98" stroke="#222" stroke-width="1.2"/>
<line x1="481.08" y1="255.57" x2="486.88" y2="255.57" stroke="#222" stroke-width="1.2"/>
<rect x="505.49" y="261.26" width="1.8" height="1.8" fill="#cfcfcf" stroke="#9e9e9e" stroke-width="0.7"/>
<line x1="506.39" y1="260.06" x2="506.39" y2="265.46" stroke="#222" stroke-width="1.2"/>
<line x1="503.49" y1="260.06" x2="509.29" y2="260.06" stroke="#222" stroke-width="1.2"/>
<line x1="503.49" y1="265.46" x2="509.29" y2="265.46" stroke="#222" stroke-width="1.2"/>
<text x="356" y="226.6" text-anchor="start" style="font-family:'Liberation Sans',sans-serif;font-size:17.2px;font-weight:bold;" fill="#000">E</text>
<text x="428.2" y="229.8" text-anchor="start" style="font-family:'Liberation Serif',serif;font-size:13.5px;font-weight:bold;" fill="#000" textLength="54" lengthAdjust="spacingAndGlyphs">THP/ZFP</text>
<rect x="111.3" y="344" width="138.1" height="73" fill="#fff"/>
<line x1="108.1" y1="344.5" x2="111.3" y2="344.5" stroke="#c4c4c4" stroke-width="0.9"/>
<line x1="111.9" y1="356.5" x2="248.8" y2="356.5" stroke="#c2c2c2" stroke-width="1.1"/>
<line x1="108.1" y1="356.5" x2="111.3" y2="356.5" stroke="#c4c4c4" stroke-width="0.9"/>
<line x1="111.9" y1="368.5" x2="248.8" y2="368.5" stroke="#c2c2c2" stroke-width="1.1"/>
<line x1="108.1" y1="368.5" x2="111.3" y2="368.5" stroke="#c4c4c4" stroke-width="0.9"/>
<line x1="111.9" y1="380.5" x2="248.8" y2="380.5" stroke="#c2c2c2" stroke-width="1.1"/>
<line x1="108.1" y1="380.5" x2="111.3" y2="380.5" stroke="#c4c4c4" stroke-width="0.9"/>
<line x1="111.9" y1="392.5" x2="248.8" y2="392.5" stroke="#c2c2c2" stroke-width="1.1"/>
<line x1="108.1" y1="392.5" x2="111.3" y2="392.5" stroke="#c4c4c4" stroke-width="0.9"/>
<line x1="111.9" y1="404.5" x2="248.8" y2="404.5" stroke="#c2c2c2" stroke-width="1.1"/>
<line x1="108.1" y1="404.5" x2="111.3" y2="404.5" stroke="#c4c4c4" stroke-width="0.9"/>
<line x1="108.1" y1="416.5" x2="111.3" y2="416.5" stroke="#c4c4c4" stroke-width="0.9"/>
<rect x="111.3" y="344" width="138.1" height="73" fill="none" stroke="#262626" stroke-width="1.15"/>
<text x="104.2" y="347" text-anchor="end" style="font-family:'Liberation Serif',serif;font-size:8.6px;" fill="#111" stroke="#111" stroke-width="0.22">1.2</text>
<text x="104.2" y="359.17" text-anchor="end" style="font-family:'Liberation Serif',serif;font-size:8.6px;" fill="#111" stroke="#111" stroke-width="0.22">1</text>
<text x="104.2" y="371.33" text-anchor="end" style="font-family:'Liberation Serif',serif;font-size:8.6px;" fill="#111" stroke="#111" stroke-width="0.22">0.8</text>
<text x="104.2" y="383.5" text-anchor="end" style="font-family:'Liberation Serif',serif;font-size:8.6px;" fill="#111" stroke="#111" stroke-width="0.22">0.6</text>
<text x="104.2" y="395.67" text-anchor="end" style="font-family:'Liberation Serif',serif;font-size:8.6px;" fill="#111" stroke="#111" stroke-width="0.22">0.4</text>
<text x="104.2" y="407.83" text-anchor="end" style="font-family:'Liberation Serif',serif;font-size:8.6px;" fill="#111" stroke="#111" stroke-width="0.22">0.2</text>
<text x="104.2" y="420" text-anchor="end" style="font-family:'Liberation Serif',serif;font-size:8.6px;" fill="#111" stroke="#111" stroke-width="0.22">0</text>
<polyline points="125.1,356.2 152.7,363.5 180.3,367.1 208.0,370.8 235.6,376.2" fill="none" stroke="#9e9e9e" stroke-width="1.5" stroke-linejoin="round"/>
<rect x="123.61" y="354.67" width="3" height="3" fill="#cfcfcf" stroke="#9e9e9e" stroke-width="0.7"/>
<rect x="151.23" y="361.97" width="3" height="3" fill="#cfcfcf" stroke="#9e9e9e" stroke-width="0.7"/>
<line x1="152.73" y1="358.6" x2="152.73" y2="368.33" stroke="#444" stroke-width="0.9"/>
<line x1="149.83" y1="358.6" x2="155.63" y2="358.6" stroke="#444" stroke-width="0.9"/>
<line x1="149.83" y1="368.33" x2="155.63" y2="368.33" stroke="#444" stroke-width="0.9"/>
<rect x="178.85" y="365.62" width="3" height="3" fill="#cfcfcf" stroke="#9e9e9e" stroke-width="0.7"/>
<line x1="180.35" y1="363.47" x2="180.35" y2="370.77" stroke="#444" stroke-width="0.9"/>
<line x1="177.45" y1="363.47" x2="183.25" y2="363.47" stroke="#444" stroke-width="0.9"/>
<line x1="177.45" y1="370.77" x2="183.25" y2="370.77" stroke="#444" stroke-width="0.9"/>
<rect x="206.47" y="369.27" width="3" height="3" fill="#cfcfcf" stroke="#9e9e9e" stroke-width="0.7"/>
<line x1="207.97" y1="366.51" x2="207.97" y2="375.02" stroke="#444" stroke-width="0.9"/>
<line x1="205.07" y1="366.51" x2="210.87" y2="366.51" stroke="#444" stroke-width="0.9"/>
<line x1="205.07" y1="375.02" x2="210.87" y2="375.02" stroke="#444" stroke-width="0.9"/>
<rect x="234.09" y="374.74" width="3" height="3" fill="#cfcfcf" stroke="#9e9e9e" stroke-width="0.7"/>
<line x1="235.59" y1="372.59" x2="235.59" y2="379.89" stroke="#444" stroke-width="0.9"/>
<line x1="232.69" y1="372.59" x2="238.49" y2="372.59" stroke="#444" stroke-width="0.9"/>
<line x1="232.69" y1="379.89" x2="238.49" y2="379.89" stroke="#444" stroke-width="0.9"/>
<polyline points="125.1,356.2 152.7,372.0 180.3,375.0 208.0,380.5 235.6,388.4" fill="none" stroke="#151515" stroke-width="2.0" stroke-linejoin="round"/>
<rect x="123.11" y="354.17" width="4" height="4" fill="#151515"/>
<rect x="150.73" y="369.98" width="4" height="4" fill="#151515"/>
<line x1="152.73" y1="368.33" x2="152.73" y2="375.63" stroke="#1a1a1a" stroke-width="1.0"/>
<line x1="149.83" y1="368.33" x2="155.63" y2="368.33" stroke="#1a1a1a" stroke-width="1.0"/>
<line x1="149.83" y1="375.63" x2="155.63" y2="375.63" stroke="#1a1a1a" stroke-width="1.0"/>
<rect x="178.35" y="373.02" width="4" height="4" fill="#151515"/>
<line x1="180.35" y1="371.98" x2="180.35" y2="378.07" stroke="#1a1a1a" stroke-width="1.0"/>
<line x1="177.45" y1="371.98" x2="183.25" y2="371.98" stroke="#1a1a1a" stroke-width="1.0"/>
<line x1="177.45" y1="378.07" x2="183.25" y2="378.07" stroke="#1a1a1a" stroke-width="1.0"/>
<rect x="205.97" y="378.5" width="4" height="4" fill="#151515"/>
<line x1="207.97" y1="377.46" x2="207.97" y2="383.54" stroke="#1a1a1a" stroke-width="1.0"/>
<line x1="205.07" y1="377.46" x2="210.87" y2="377.46" stroke="#1a1a1a" stroke-width="1.0"/>
<line x1="205.07" y1="383.54" x2="210.87" y2="383.54" stroke="#1a1a1a" stroke-width="1.0"/>
<rect x="233.59" y="386.41" width="4" height="4" fill="#151515"/>
<line x1="235.59" y1="386.58" x2="235.59" y2="390.23" stroke="#1a1a1a" stroke-width="1.0"/>
<line x1="232.69" y1="386.58" x2="238.49" y2="386.58" stroke="#1a1a1a" stroke-width="1.0"/>
<line x1="232.69" y1="390.23" x2="238.49" y2="390.23" stroke="#1a1a1a" stroke-width="1.0"/>
<text x="79.4" y="343.6" text-anchor="start" style="font-family:'Liberation Sans',sans-serif;font-size:17.2px;font-weight:bold;" fill="#000">F</text>
<text x="148.7" y="340.4" text-anchor="start" style="font-family:'Liberation Serif',serif;font-size:12.3px;font-weight:bold;" fill="#000" textLength="66.5" lengthAdjust="spacingAndGlyphs">mHS3/ZFP</text>
<text x="214.8" y="415.1" fill="#111" textLength="33.3" lengthAdjust="spacingAndGlyphs" style="font-family:'Liberation Serif',serif;font-size:9.6px;"><tspan style="font-style:italic;font-size:11.8px">P</tspan> <tspan fill="#666">=</tspan> 0.23</text>
<rect x="300.8" y="344.4" width="138.6" height="73.3" fill="#fff"/>
<line x1="297.6" y1="344.5" x2="300.8" y2="344.5" stroke="#c4c4c4" stroke-width="0.9"/>
<line x1="301.4" y1="356.5" x2="438.8" y2="356.5" stroke="#c2c2c2" stroke-width="1.1"/>
<line x1="297.6" y1="356.5" x2="300.8" y2="356.5" stroke="#c4c4c4" stroke-width="0.9"/>
<line x1="301.4" y1="368.5" x2="438.8" y2="368.5" stroke="#c2c2c2" stroke-width="1.1"/>
<line x1="297.6" y1="368.5" x2="300.8" y2="368.5" stroke="#c4c4c4" stroke-width="0.9"/>
<line x1="301.4" y1="381.5" x2="438.8" y2="381.5" stroke="#c2c2c2" stroke-width="1.1"/>
<line x1="297.6" y1="381.5" x2="300.8" y2="381.5" stroke="#c4c4c4" stroke-width="0.9"/>
<line x1="301.4" y1="393.5" x2="438.8" y2="393.5" stroke="#c2c2c2" stroke-width="1.1"/>
<line x1="297.6" y1="393.5" x2="300.8" y2="393.5" stroke="#c4c4c4" stroke-width="0.9"/>
<line x1="301.4" y1="405.5" x2="438.8" y2="405.5" stroke="#c2c2c2" stroke-width="1.1"/>
<line x1="297.6" y1="405.5" x2="300.8" y2="405.5" stroke="#c4c4c4" stroke-width="0.9"/>
<line x1="297.6" y1="417.5" x2="300.8" y2="417.5" stroke="#c4c4c4" stroke-width="0.9"/>
<rect x="300.8" y="344.4" width="138.6" height="73.3" fill="none" stroke="#262626" stroke-width="1.15"/>
<text x="293.7" y="347.4" text-anchor="end" style="font-family:'Liberation Serif',serif;font-size:8.6px;" fill="#111" stroke="#111" stroke-width="0.22">1.2</text>
<text x="293.7" y="359.62" text-anchor="end" style="font-family:'Liberation Serif',serif;font-size:8.6px;" fill="#111" stroke="#111" stroke-width="0.22">1</text>
<text x="293.7" y="371.83" text-anchor="end" style="font-family:'Liberation Serif',serif;font-size:8.6px;" fill="#111" stroke="#111" stroke-width="0.22">0.8</text>
<text x="293.7" y="384.05" text-anchor="end" style="font-family:'Liberation Serif',serif;font-size:8.6px;" fill="#111" stroke="#111" stroke-width="0.22">0.6</text>
<text x="293.7" y="396.27" text-anchor="end" style="font-family:'Liberation Serif',serif;font-size:8.6px;" fill="#111" stroke="#111" stroke-width="0.22">0.4</text>
<text x="293.7" y="408.48" text-anchor="end" style="font-family:'Liberation Serif',serif;font-size:8.6px;" fill="#111" stroke="#111" stroke-width="0.22">0.2</text>
<text x="293.7" y="420.7" text-anchor="end" style="font-family:'Liberation Serif',serif;font-size:8.6px;" fill="#111" stroke="#111" stroke-width="0.22">0</text>
<polyline points="314.7,356.6 342.4,373.1 370.1,374.3 397.8,377.4 425.5,382.3" fill="none" stroke="#9e9e9e" stroke-width="1.5" stroke-linejoin="round"/>
<rect x="313.16" y="355.12" width="3" height="3" fill="#cfcfcf" stroke="#9e9e9e" stroke-width="0.7"/>
<rect x="340.88" y="371.61" width="3" height="3" fill="#cfcfcf" stroke="#9e9e9e" stroke-width="0.7"/>
<line x1="342.38" y1="369.44" x2="342.38" y2="374.33" stroke="#444" stroke-width="0.9"/>
<line x1="339.48" y1="369.44" x2="345.28" y2="369.44" stroke="#444" stroke-width="0.9"/>
<line x1="339.48" y1="374.33" x2="345.28" y2="374.33" stroke="#444" stroke-width="0.9"/>
<rect x="368.6" y="372.83" width="3" height="3" fill="#cfcfcf" stroke="#9e9e9e" stroke-width="0.7"/>
<line x1="370.1" y1="371.89" x2="370.1" y2="376.77" stroke="#444" stroke-width="0.9"/>
<line x1="367.2" y1="371.89" x2="373" y2="371.89" stroke="#444" stroke-width="0.9"/>
<line x1="367.2" y1="376.77" x2="373" y2="376.77" stroke="#444" stroke-width="0.9"/>
<rect x="396.32" y="375.88" width="3" height="3" fill="#cfcfcf" stroke="#9e9e9e" stroke-width="0.7"/>
<line x1="397.82" y1="376.16" x2="397.82" y2="378.61" stroke="#444" stroke-width="0.9"/>
<line x1="394.92" y1="376.16" x2="400.72" y2="376.16" stroke="#444" stroke-width="0.9"/>
<line x1="394.92" y1="378.61" x2="400.72" y2="378.61" stroke="#444" stroke-width="0.9"/>
<rect x="424.04" y="380.77" width="3" height="3" fill="#cfcfcf" stroke="#9e9e9e" stroke-width="0.7"/>
<line x1="425.54" y1="380.74" x2="425.54" y2="383.8" stroke="#444" stroke-width="0.9"/>
<line x1="422.64" y1="380.74" x2="428.44" y2="380.74" stroke="#444" stroke-width="0.9"/>
<line x1="422.64" y1="383.8" x2="428.44" y2="383.8" stroke="#444" stroke-width="0.9"/>
<polyline points="314.7,356.6 342.4,379.8 370.1,386.5 397.8,390.8 425.5,392.0" fill="none" stroke="#151515" stroke-width="2.0" stroke-linejoin="round"/>
<rect x="312.66" y="354.62" width="4" height="4" fill="#151515"/>
<rect x="340.38" y="377.83" width="4" height="4" fill="#151515"/>
<line x1="342.38" y1="378.61" x2="342.38" y2="381.05" stroke="#1a1a1a" stroke-width="1.0"/>
<line x1="339.48" y1="378.61" x2="345.28" y2="378.61" stroke="#1a1a1a" stroke-width="1.0"/>
<line x1="339.48" y1="381.05" x2="345.28" y2="381.05" stroke="#1a1a1a" stroke-width="1.0"/>
<rect x="368.1" y="384.55" width="4" height="4" fill="#151515"/>
<line x1="370.1" y1="385.33" x2="370.1" y2="387.77" stroke="#1a1a1a" stroke-width="1.0"/>
<line x1="367.2" y1="385.33" x2="373" y2="385.33" stroke="#1a1a1a" stroke-width="1.0"/>
<line x1="367.2" y1="387.77" x2="373" y2="387.77" stroke="#1a1a1a" stroke-width="1.0"/>
<rect x="395.82" y="388.82" width="4" height="4" fill="#151515"/>
<line x1="397.82" y1="388.99" x2="397.82" y2="392.66" stroke="#1a1a1a" stroke-width="1.0"/>
<line x1="394.92" y1="388.99" x2="400.72" y2="388.99" stroke="#1a1a1a" stroke-width="1.0"/>
<line x1="394.92" y1="392.66" x2="400.72" y2="392.66" stroke="#1a1a1a" stroke-width="1.0"/>
<rect x="423.54" y="390.04" width="4" height="4" fill="#151515"/>
<line x1="425.54" y1="389.6" x2="425.54" y2="394.49" stroke="#1a1a1a" stroke-width="1.0"/>
<line x1="422.64" y1="389.6" x2="428.44" y2="389.6" stroke="#1a1a1a" stroke-width="1.0"/>
<line x1="422.64" y1="394.49" x2="428.44" y2="394.49" stroke="#1a1a1a" stroke-width="1.0"/>
<text x="269" y="342.9" text-anchor="start" style="font-family:'Liberation Sans',sans-serif;font-size:17.2px;font-weight:bold;" fill="#000">G</text>
<text x="338.8" y="340.4" text-anchor="start" style="font-family:'Liberation Serif',serif;font-size:12.7px;font-weight:bold;" fill="#000" textLength="63.2" lengthAdjust="spacingAndGlyphs">tgHS3/ZFP</text>
<text x="401.9" y="415.9" fill="#111" textLength="35.6" lengthAdjust="spacingAndGlyphs" style="font-family:'Liberation Serif',serif;font-size:9.6px;"><tspan style="font-style:italic;font-size:11.8px">P</tspan> <tspan fill="#666">=</tspan> 0.09</text>
<rect x="111.3" y="502.4" width="138.7" height="72.2" fill="#fff"/>
<line x1="108.1" y1="502.5" x2="111.3" y2="502.5" stroke="#c4c4c4" stroke-width="0.9"/>
<line x1="111.9" y1="514.5" x2="249.4" y2="514.5" stroke="#c2c2c2" stroke-width="1.1"/>
<line x1="108.1" y1="514.5" x2="111.3" y2="514.5" stroke="#c4c4c4" stroke-width="0.9"/>
<line x1="111.9" y1="526.5" x2="249.4" y2="526.5" stroke="#c2c2c2" stroke-width="1.1"/>
<line x1="108.1" y1="526.5" x2="111.3" y2="526.5" stroke="#c4c4c4" stroke-width="0.9"/>
<line x1="111.9" y1="538.5" x2="249.4" y2="538.5" stroke="#c2c2c2" stroke-width="1.1"/>
<line x1="108.1" y1="538.5" x2="111.3" y2="538.5" stroke="#c4c4c4" stroke-width="0.9"/>
<line x1="111.9" y1="550.5" x2="249.4" y2="550.5" stroke="#c2c2c2" stroke-width="1.1"/>
<line x1="108.1" y1="550.5" x2="111.3" y2="550.5" stroke="#c4c4c4" stroke-width="0.9"/>
<line x1="111.9" y1="562.5" x2="249.4" y2="562.5" stroke="#c2c2c2" stroke-width="1.1"/>
<line x1="108.1" y1="562.5" x2="111.3" y2="562.5" stroke="#c4c4c4" stroke-width="0.9"/>
<line x1="108.1" y1="574.5" x2="111.3" y2="574.5" stroke="#c4c4c4" stroke-width="0.9"/>
<rect x="111.3" y="502.4" width="138.7" height="72.2" fill="none" stroke="#262626" stroke-width="1.15"/>
<text x="104.6" y="505.4" text-anchor="end" style="font-family:'Liberation Serif',serif;font-size:8.6px;" fill="#111" stroke="#111" stroke-width="0.22">1.2</text>
<text x="104.6" y="517.43" text-anchor="end" style="font-family:'Liberation Serif',serif;font-size:8.6px;" fill="#111" stroke="#111" stroke-width="0.22">1</text>
<text x="104.6" y="529.47" text-anchor="end" style="font-family:'Liberation Serif',serif;font-size:8.6px;" fill="#111" stroke="#111" stroke-width="0.22">0.8</text>
<text x="104.6" y="541.5" text-anchor="end" style="font-family:'Liberation Serif',serif;font-size:8.6px;" fill="#111" stroke="#111" stroke-width="0.22">0.6</text>
<text x="104.6" y="553.53" text-anchor="end" style="font-family:'Liberation Serif',serif;font-size:8.6px;" fill="#111" stroke="#111" stroke-width="0.22">0.4</text>
<text x="104.6" y="565.57" text-anchor="end" style="font-family:'Liberation Serif',serif;font-size:8.6px;" fill="#111" stroke="#111" stroke-width="0.22">0.2</text>
<text x="104.6" y="577.6" text-anchor="end" style="font-family:'Liberation Serif',serif;font-size:8.6px;" fill="#111" stroke="#111" stroke-width="0.22">0</text>
<polyline points="125.2,514.4 152.9,514.4 180.6,515.6 208.4,520.4 236.1,522.9" fill="none" stroke="#9e9e9e" stroke-width="1.5" stroke-linejoin="round"/>
<rect x="123.67" y="512.93" width="3" height="3" fill="#cfcfcf" stroke="#9e9e9e" stroke-width="0.7"/>
<rect x="151.41" y="512.93" width="3" height="3" fill="#cfcfcf" stroke="#9e9e9e" stroke-width="0.7"/>
<line x1="152.91" y1="508.12" x2="152.91" y2="518.04" stroke="#444" stroke-width="0.9"/>
<line x1="150.01" y1="508.12" x2="155.81" y2="508.12" stroke="#444" stroke-width="0.9"/>
<line x1="150.01" y1="518.04" x2="155.81" y2="518.04" stroke="#444" stroke-width="0.9"/>
<rect x="179.15" y="514.14" width="3" height="3" fill="#cfcfcf" stroke="#9e9e9e" stroke-width="0.7"/>
<line x1="180.65" y1="514.43" x2="180.65" y2="516.84" stroke="#444" stroke-width="0.9"/>
<line x1="177.75" y1="514.43" x2="183.55" y2="514.43" stroke="#444" stroke-width="0.9"/>
<line x1="177.75" y1="516.84" x2="183.55" y2="516.84" stroke="#444" stroke-width="0.9"/>
<rect x="206.89" y="518.95" width="3" height="3" fill="#cfcfcf" stroke="#9e9e9e" stroke-width="0.7"/>
<line x1="208.39" y1="519.85" x2="208.39" y2="521.05" stroke="#444" stroke-width="0.9"/>
<line x1="205.49" y1="519.85" x2="211.29" y2="519.85" stroke="#444" stroke-width="0.9"/>
<line x1="205.49" y1="521.05" x2="211.29" y2="521.05" stroke="#444" stroke-width="0.9"/>
<rect x="234.63" y="521.36" width="3" height="3" fill="#cfcfcf" stroke="#9e9e9e" stroke-width="0.7"/>
<line x1="236.13" y1="519.85" x2="236.13" y2="525.87" stroke="#444" stroke-width="0.9"/>
<line x1="233.23" y1="519.85" x2="239.03" y2="519.85" stroke="#444" stroke-width="0.9"/>
<line x1="233.23" y1="525.87" x2="239.03" y2="525.87" stroke="#444" stroke-width="0.9"/>
<polyline points="125.2,514.4 152.9,527.7 180.6,528.3 208.4,533.7 236.1,549.9" fill="none" stroke="#151515" stroke-width="2.0" stroke-linejoin="round"/>
<rect x="123.17" y="512.43" width="4" height="4" fill="#151515"/>
<rect x="150.91" y="525.67" width="4" height="4" fill="#151515"/>
<line x1="152.91" y1="522.86" x2="152.91" y2="533.39" stroke="#1a1a1a" stroke-width="1.0"/>
<line x1="150.01" y1="522.86" x2="155.81" y2="522.86" stroke="#1a1a1a" stroke-width="1.0"/>
<line x1="150.01" y1="533.39" x2="155.81" y2="533.39" stroke="#1a1a1a" stroke-width="1.0"/>
<rect x="178.65" y="526.27" width="4" height="4" fill="#151515"/>
<line x1="180.65" y1="526.47" x2="180.65" y2="530.08" stroke="#1a1a1a" stroke-width="1.0"/>
<line x1="177.75" y1="526.47" x2="183.55" y2="526.47" stroke="#1a1a1a" stroke-width="1.0"/>
<line x1="177.75" y1="530.08" x2="183.55" y2="530.08" stroke="#1a1a1a" stroke-width="1.0"/>
<rect x="206.39" y="531.69" width="4" height="4" fill="#151515"/>
<line x1="208.39" y1="530.68" x2="208.39" y2="536.69" stroke="#1a1a1a" stroke-width="1.0"/>
<line x1="205.49" y1="530.68" x2="211.29" y2="530.68" stroke="#1a1a1a" stroke-width="1.0"/>
<line x1="205.49" y1="536.69" x2="211.29" y2="536.69" stroke="#1a1a1a" stroke-width="1.0"/>
<rect x="234.13" y="547.93" width="4" height="4" fill="#151515"/>
<line x1="236.13" y1="548.73" x2="236.13" y2="551.13" stroke="#1a1a1a" stroke-width="1.0"/>
<line x1="233.23" y1="548.73" x2="239.03" y2="548.73" stroke="#1a1a1a" stroke-width="1.0"/>
<line x1="233.23" y1="551.13" x2="239.03" y2="551.13" stroke="#1a1a1a" stroke-width="1.0"/>
<text x="78.6" y="501.1" text-anchor="start" style="font-family:'Liberation Sans',sans-serif;font-size:17.2px;font-weight:bold;" fill="#000">H</text>
<text x="156.3" y="498.7" text-anchor="start" style="font-family:'Liberation Serif',serif;font-size:12.7px;font-weight:bold;" fill="#000" textLength="55.6" lengthAdjust="spacingAndGlyphs">hu<tspan style="font-weight:normal;font-size:13.8px">β</tspan>/pax6</text>
<text x="215.8" y="572" fill="#111" textLength="32.7" lengthAdjust="spacingAndGlyphs" style="font-family:'Liberation Serif',serif;font-size:9.6px;"><tspan style="font-style:italic;font-size:11.8px">P</tspan> <tspan fill="#666">=</tspan> 0.05</text>
<rect x="300.4" y="501.4" width="139" height="74" fill="#fff"/>
<line x1="297.2" y1="501.5" x2="300.4" y2="501.5" stroke="#c4c4c4" stroke-width="0.9"/>
<line x1="301" y1="513.5" x2="438.8" y2="513.5" stroke="#c2c2c2" stroke-width="1.1"/>
<line x1="297.2" y1="513.5" x2="300.4" y2="513.5" stroke="#c4c4c4" stroke-width="0.9"/>
<line x1="301" y1="526.5" x2="438.8" y2="526.5" stroke="#c2c2c2" stroke-width="1.1"/>
<line x1="297.2" y1="526.5" x2="300.4" y2="526.5" stroke="#c4c4c4" stroke-width="0.9"/>
<line x1="301" y1="538.5" x2="438.8" y2="538.5" stroke="#c2c2c2" stroke-width="1.1"/>
<line x1="297.2" y1="538.5" x2="300.4" y2="538.5" stroke="#c4c4c4" stroke-width="0.9"/>
<line x1="301" y1="550.5" x2="438.8" y2="550.5" stroke="#c2c2c2" stroke-width="1.1"/>
<line x1="297.2" y1="550.5" x2="300.4" y2="550.5" stroke="#c4c4c4" stroke-width="0.9"/>
<line x1="301" y1="563.5" x2="438.8" y2="563.5" stroke="#c2c2c2" stroke-width="1.1"/>
<line x1="297.2" y1="563.5" x2="300.4" y2="563.5" stroke="#c4c4c4" stroke-width="0.9"/>
<line x1="297.2" y1="575.5" x2="300.4" y2="575.5" stroke="#c4c4c4" stroke-width="0.9"/>
<rect x="300.4" y="501.4" width="139" height="74" fill="none" stroke="#262626" stroke-width="1.15"/>
<text x="293.6" y="504.4" text-anchor="end" style="font-family:'Liberation Serif',serif;font-size:8.6px;" fill="#111" stroke="#111" stroke-width="0.22">1.2</text>
<text x="293.6" y="516.73" text-anchor="end" style="font-family:'Liberation Serif',serif;font-size:8.6px;" fill="#111" stroke="#111" stroke-width="0.22">1</text>
<text x="293.6" y="529.07" text-anchor="end" style="font-family:'Liberation Serif',serif;font-size:8.6px;" fill="#111" stroke="#111" stroke-width="0.22">0.8</text>
<text x="293.6" y="541.4" text-anchor="end" style="font-family:'Liberation Serif',serif;font-size:8.6px;" fill="#111" stroke="#111" stroke-width="0.22">0.6</text>
<text x="293.6" y="553.73" text-anchor="end" style="font-family:'Liberation Serif',serif;font-size:8.6px;" fill="#111" stroke="#111" stroke-width="0.22">0.4</text>
<text x="293.6" y="566.07" text-anchor="end" style="font-family:'Liberation Serif',serif;font-size:8.6px;" fill="#111" stroke="#111" stroke-width="0.22">0.2</text>
<text x="293.6" y="578.4" text-anchor="end" style="font-family:'Liberation Serif',serif;font-size:8.6px;" fill="#111" stroke="#111" stroke-width="0.22">0</text>
<polyline points="314.3,513.7 342.1,523.0 369.9,523.0 397.7,531.6 425.5,534.7" fill="none" stroke="#9e9e9e" stroke-width="1.5" stroke-linejoin="round"/>
<rect x="312.8" y="512.23" width="3" height="3" fill="#cfcfcf" stroke="#9e9e9e" stroke-width="0.7"/>
<rect x="340.6" y="521.48" width="3" height="3" fill="#cfcfcf" stroke="#9e9e9e" stroke-width="0.7"/>
<line x1="342.1" y1="519.9" x2="342.1" y2="526.07" stroke="#444" stroke-width="0.9"/>
<line x1="339.2" y1="519.9" x2="345" y2="519.9" stroke="#444" stroke-width="0.9"/>
<line x1="339.2" y1="526.07" x2="345" y2="526.07" stroke="#444" stroke-width="0.9"/>
<rect x="368.4" y="521.48" width="3" height="3" fill="#cfcfcf" stroke="#9e9e9e" stroke-width="0.7"/>
<line x1="369.9" y1="519.9" x2="369.9" y2="526.07" stroke="#444" stroke-width="0.9"/>
<line x1="367" y1="519.9" x2="372.8" y2="519.9" stroke="#444" stroke-width="0.9"/>
<line x1="367" y1="526.07" x2="372.8" y2="526.07" stroke="#444" stroke-width="0.9"/>
<rect x="396.2" y="530.12" width="3" height="3" fill="#cfcfcf" stroke="#9e9e9e" stroke-width="0.7"/>
<line x1="397.7" y1="527.3" x2="397.7" y2="535.93" stroke="#444" stroke-width="0.9"/>
<line x1="394.8" y1="527.3" x2="400.6" y2="527.3" stroke="#444" stroke-width="0.9"/>
<line x1="394.8" y1="535.93" x2="400.6" y2="535.93" stroke="#444" stroke-width="0.9"/>
<rect x="424" y="533.2" width="3" height="3" fill="#cfcfcf" stroke="#9e9e9e" stroke-width="0.7"/>
<line x1="425.5" y1="532.23" x2="425.5" y2="537.17" stroke="#444" stroke-width="0.9"/>
<line x1="422.6" y1="532.23" x2="428.4" y2="532.23" stroke="#444" stroke-width="0.9"/>
<line x1="422.6" y1="537.17" x2="428.4" y2="537.17" stroke="#444" stroke-width="0.9"/>
<polyline points="314.3,513.7 342.1,530.4 369.9,538.4 397.7,550.7 425.5,555.7" fill="none" stroke="#151515" stroke-width="2.0" stroke-linejoin="round"/>
<rect x="312.3" y="511.73" width="4" height="4" fill="#151515"/>
<rect x="340.1" y="528.38" width="4" height="4" fill="#151515"/>
<line x1="342.1" y1="527.3" x2="342.1" y2="533.47" stroke="#1a1a1a" stroke-width="1.0"/>
<line x1="339.2" y1="527.3" x2="345" y2="527.3" stroke="#1a1a1a" stroke-width="1.0"/>
<line x1="339.2" y1="533.47" x2="345" y2="533.47" stroke="#1a1a1a" stroke-width="1.0"/>
<rect x="367.9" y="536.4" width="4" height="4" fill="#151515"/>
<line x1="369.9" y1="537.17" x2="369.9" y2="539.63" stroke="#1a1a1a" stroke-width="1.0"/>
<line x1="367" y1="537.17" x2="372.8" y2="537.17" stroke="#1a1a1a" stroke-width="1.0"/>
<line x1="367" y1="539.63" x2="372.8" y2="539.63" stroke="#1a1a1a" stroke-width="1.0"/>
<rect x="395.7" y="548.73" width="4" height="4" fill="#151515"/>
<line x1="397.7" y1="547.03" x2="397.7" y2="554.43" stroke="#1a1a1a" stroke-width="1.0"/>
<line x1="394.8" y1="547.03" x2="400.6" y2="547.03" stroke="#1a1a1a" stroke-width="1.0"/>
<line x1="394.8" y1="554.43" x2="400.6" y2="554.43" stroke="#1a1a1a" stroke-width="1.0"/>
<rect x="423.5" y="553.67" width="4" height="4" fill="#151515"/>
<line x1="425.5" y1="554.43" x2="425.5" y2="556.9" stroke="#1a1a1a" stroke-width="1.0"/>
<line x1="422.6" y1="554.43" x2="428.4" y2="554.43" stroke="#1a1a1a" stroke-width="1.0"/>
<line x1="422.6" y1="556.9" x2="428.4" y2="556.9" stroke="#1a1a1a" stroke-width="1.0"/>
<text x="275.5" y="500.5" text-anchor="start" style="font-family:'Liberation Sans',sans-serif;font-size:17.2px;font-weight:bold;" fill="#000">I</text>
<text x="341.3" y="496.4" text-anchor="start" style="font-family:'Liberation Serif',serif;font-size:12.7px;font-weight:bold;" fill="#000" textLength="57.3" lengthAdjust="spacingAndGlyphs">HS3/pax6</text>
<text x="403.5" y="573.3" fill="#111" textLength="34" lengthAdjust="spacingAndGlyphs" style="font-family:'Liberation Serif',serif;font-size:9.6px;"><tspan style="font-style:italic;font-size:11.8px">P</tspan> <tspan fill="#666">=</tspan> 0.05</text>
</svg>
</body></html>
